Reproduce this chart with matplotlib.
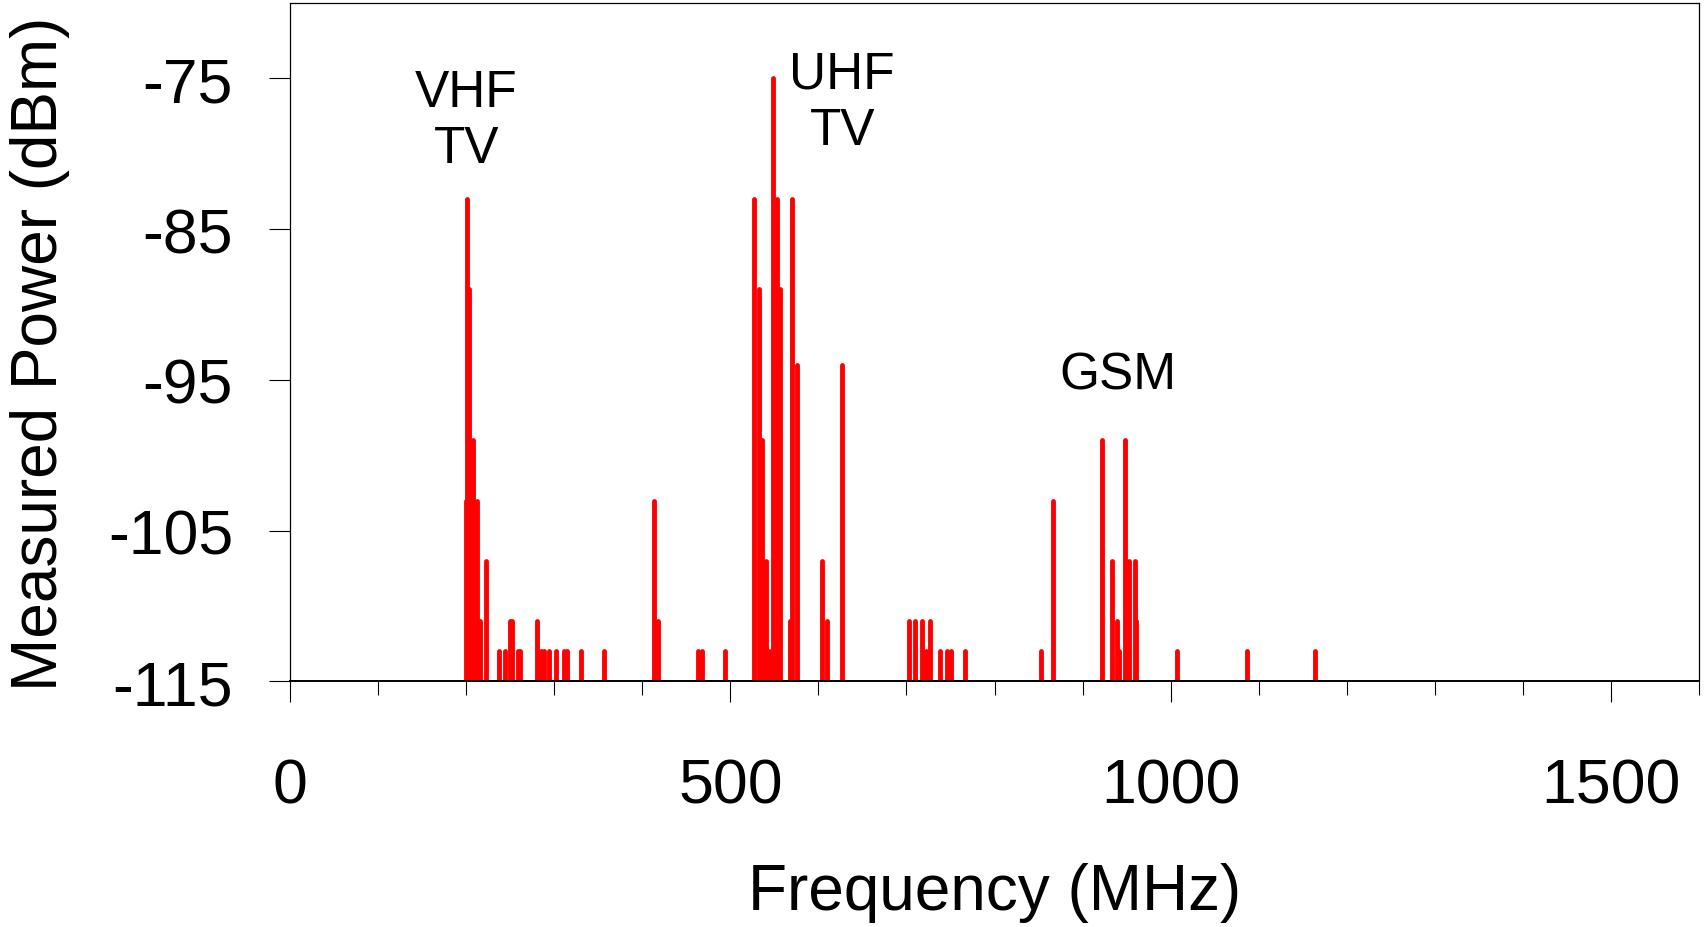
import matplotlib
matplotlib.use("Agg")
import matplotlib.pyplot as plt
from matplotlib.ticker import MultipleLocator

plt.rcParams['font.family'] = ['Liberation Sans', 'DejaVu Sans']
plt.rcParams['axes.unicode_minus'] = False

# spectrum lines (MHz, dBm)
freq_mhz = [199.5, 201.5, 203.5, 208, 212, 215.5, 222.5, 237, 244, 250,
            252.5, 258.5, 261.5, 280, 285, 288, 294.5, 302, 311.5, 315,
            330.5, 356, 413.5, 418, 463.5, 468, 494, 527, 533, 536.5,
            540.5, 544, 548.5, 553.5, 556, 567.5, 570, 576, 604.5, 609.5,
            626.5, 702.5, 710, 717.5, 722.5, 726.5, 738, 745.5, 751, 766,
            853, 866, 922.5, 933.5, 939, 941.5, 948, 953, 959, 961,
            1007, 1087, 1164]
power_dbm = [-103, -83, -89, -99, -103, -111, -107, -113, -113, -111,
             -111, -113, -113, -111, -113, -113, -113, -113, -113, -113,
             -113, -113, -103, -111, -113, -113, -113, -83, -89, -99,
             -107, -113, -75, -83, -89, -111, -83, -94, -107, -111,
             -94, -111, -111, -111, -113, -111, -113, -113, -113, -113,
             -113, -103, -99, -107, -111, -113, -99, -107, -107, -111,
             -113, -113, -113]

band_names = ["VHF\nTV", "UHF\nTV", "GSM"]
band_x = [200, 627, 940]
band_y = [-77.8, -76.6, -94.7]

floor = -115

fig = plt.figure(figsize=(17.04, 9.28), dpi=100)
ax = fig.add_axes([0.1702, 0.2646, 0.8269, 0.7311])

lc = ax.vlines(freq_mhz, floor, power_dbm, colors="#ff0000", linewidth=3.5)
lc.set_capstyle("round")

for name, x, y in zip(band_names, band_x, band_y):
    ax.text(x, y, name, ha="center", va="center", fontsize=37,
            linespacing=1.2)

ax.set_xlim(0, 1600)
ax.set_ylim(-115, -70)
ax.xaxis.set_major_locator(MultipleLocator(500))
ax.xaxis.set_minor_locator(MultipleLocator(100))
ax.set_yticks([-115, -105, -95, -85, -75])

ax.tick_params(axis="x", which="major", direction="out", length=15,
               width=0.8, labelsize=45, pad=39)
ax.tick_params(axis="x", which="minor", direction="out", length=10,
               width=0.8)
ax.tick_params(axis="y", which="major", direction="out", length=15,
               width=0.8, labelsize=45, pad=26)

for side in ["left", "top", "right"]:
    ax.spines[side].set_linewidth(0.9)
ax.spines["bottom"].set_linewidth(1.4)

ax.set_xlabel("Frequency (MHz)", fontsize=46)
ax.set_ylabel("Measured Power (dBm)", fontsize=46)
ax.xaxis.set_label_coords(0.5, -0.31)
ax.xaxis.label.set_va("center")
ax.yaxis.set_label_coords(-0.1774, 0.485)
ax.yaxis.label.set_va("center")

fig.savefig("out.png", dpi=100)
